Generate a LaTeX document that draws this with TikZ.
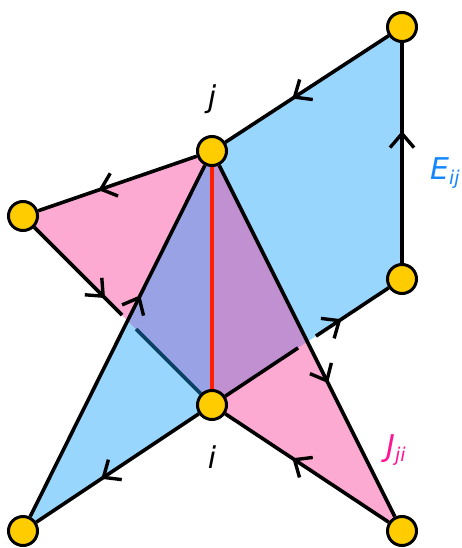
\documentclass[tikz,border=0pt]{standalone}
\usepackage{fontspec}
\setmainfont{DejaVu Sans}
\usetikzlibrary{arrows.meta,decorations.markings,calc,backgrounds}

\definecolor{vertexyellow}{RGB}{255,204,0}
\definecolor{fillblue}{RGB}{153,214,253}
\definecolor{fillpink}{RGB}{253,170,211}
\definecolor{fillleft}{RGB}{153,162,228}
\definecolor{fillright}{RGB}{192,144,208}
\definecolor{edgenavy}{RGB}{10,65,100}
\definecolor{edgered}{RGB}{255,30,0}
\definecolor{eblue}{RGB}{20,135,255}
\definecolor{jpink}{RGB}{255,20,147}

\newcommand{\lowidx}[1]{\raisebox{-5pt}{\fontsize{19}{19}\selectfont #1}}

\begin{document}
\begin{tikzpicture}[x=1pt,y=-1pt,
    vertex/.style={circle,draw=black,line width=3pt,fill=vertexyellow,minimum size=29pt,inner sep=0pt},
    edge/.style={black,line width=3.6pt},
    arrowat/.style={postaction={decorate,decoration={markings,
        mark=at position #1 with {\arrow[line width=3.4pt]{Straight Barb[length=14pt,width=24pt]}}}}},
    lbl/.style={font=\fontsize{30}{36}\selectfont\itshape,inner sep=0pt,anchor=base}]
    \useasboundingbox (0,0) rectangle (462,548);

    % vertices
    \node[vertex] (j)  at (212,151) {};
    \node[vertex] (i)  at (212,405) {};
    \node[vertex] (tr) at (402,27) {};
    \node[vertex] (r)  at (402,279) {};
    \node[vertex] (l)  at (23,216) {};
    \node[vertex] (bl) at (23,531) {};
    \node[vertex] (br) at (402,531) {};

    % labels
    \node[lbl] (jlab) at (212,108) {j};
    \node[lbl] (ilab) at (212,468) {i};
    \node[lbl,anchor=base west,text=eblue] (elab) at (430,179) {E\lowidx{ij}};
    \node[lbl,anchor=base west,text=jpink] (jjlab) at (386,456) {J\lowidx{ji}};

    % crossings and gaps
    \coordinate (xl) at ($(l.center)!0.553!(i.center)$);
    \coordinate (xr) at ($(i.center)!0.502!(r.center)$);
    \coordinate (la) at ($(l.center)!0.524!(i.center)$);
    \coordinate (lb) at ($(l.center)!0.598!(i.center)$);
    \coordinate (ra) at ($(i.center)!0.453!(r.center)$);
    \coordinate (rb) at ($(i.center)!0.547!(r.center)$);

    \begin{pgfonlayer}{background}
    % E_ij and J_ji faces
    \fill[fillblue] (bl.center) -- (j.center) -- (tr.center) -- (r.center) -- (i.center) -- cycle;
    \fill[fillpink] (j.center) -- (l.center) -- (i.center) -- (br.center) -- cycle;
    \fill[fillleft] (j.center) -- (xl) -- (i.center) -- cycle;
    \fill[fillright] (j.center) -- (xr) -- (i.center) -- cycle;

    % edges
    \draw[edge,arrowat=0.62] (j) -- (l);
    \draw[edge,arrowat=0.81] (l) -- (la);
    \draw[edge,edgenavy] (lb) -- (i);
    \draw[edge,arrowat=0.63] (bl) -- (j);
    \draw[edge,arrowat=0.59] (tr) -- (j);
    \draw[edge,arrowat=0.6] (r) -- (tr);
    \draw[edge,arrowat=0.35] (rb) -- (r);
    \draw[edge] (i) -- (ra);
    \draw[edge,arrowat=0.62] (j) -- (br);
    \draw[edge,arrowat=0.59] (br) -- (i);
    \draw[edge,arrowat=0.6] (i) -- (bl);
    \draw[edge,edgered] (j) -- (i);
    \end{pgfonlayer}
\end{tikzpicture}
\end{document}
